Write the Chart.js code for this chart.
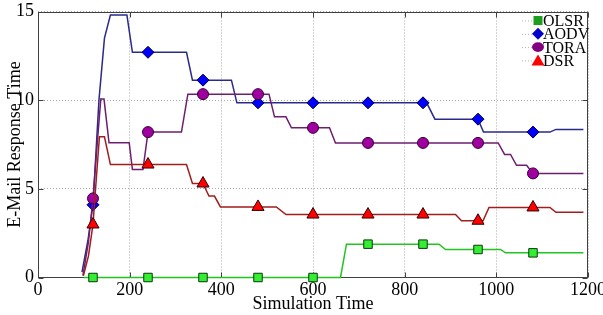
<!DOCTYPE html>
<html>
<head>
<meta charset="utf-8">
<script src="https://cdn.jsdelivr.net/npm/chart.js@4.4.0/dist/chart.umd.min.js"></script>
<style>
html, body { margin: 0; padding: 0; background: #fff; }
</style>
</head>
<body>
<canvas id="mycanvas" width="603" height="315"></canvas>
<script>
// values (x = simulation time, y = response time)
var olsrX = [100, 120, 240, 360, 480, 600, 660, 673, 720, 840, 875, 889, 960, 1009, 1020, 1080, 1190];
var olsrY = [0, 0, 0, 0, 0, 0, 0, 1.88, 1.88, 1.88, 1.88, 1.58, 1.58, 1.58, 1.39, 1.39, 1.39];

var aodvX = [96, 109, 120, 133, 145, 158, 194, 206, 240, 324, 337, 360, 422, 434, 480, 600, 720, 840, 848, 866, 960, 972, 1080, 1117, 1130, 1190];
var aodvY = [0.3, 2.1, 4.1, 10.0, 13.5, 14.8, 14.8, 12.7, 12.7, 12.7, 11.13, 11.13, 11.13, 9.85, 9.85, 9.85, 9.85, 9.85, 9.85, 8.93, 8.93, 8.2, 8.2, 8.2, 8.35, 8.35];

var toraX = [98, 110, 120, 130, 137, 144, 155, 199, 206, 229, 240, 313, 327, 360, 480, 504, 516, 541, 553, 600, 636, 649, 720, 840, 960, 1004, 1018, 1031, 1044, 1066, 1080, 1190];
var toraY = [0.1, 2.0, 4.46, 7.8, 10.06, 10.06, 7.6, 7.6, 6.09, 6.09, 8.2, 8.2, 10.34, 10.34, 10.34, 10.34, 9.06, 9.06, 8.44, 8.44, 8.44, 7.59, 7.59, 7.59, 7.59, 7.59, 6.94, 6.94, 6.33, 6.33, 5.87, 5.87];

var dsrX = [99, 110, 120, 127, 134, 145, 158, 240, 324, 337, 360, 373, 385, 398, 480, 520, 541, 600, 720, 840, 911, 924, 960, 971, 984, 1080, 1117, 1130, 1190];
var dsrY = [0.1, 1.2, 2.99, 5.5, 7.93, 7.93, 6.37, 6.37, 6.37, 5.3, 5.3, 4.59, 4.59, 3.98, 3.98, 3.98, 3.55, 3.55, 3.55, 3.55, 3.55, 3.2, 3.2, 3.2, 3.95, 3.95, 3.95, 3.68, 3.68];

// times where a marker is drawn on every curve
var markerX = [120, 240, 360, 480, 600, 720, 840, 960, 1080];

var names = ['OLSR', 'AODV', 'TORA', 'DSR'];
var xTicks = [0, 200, 400, 600, 800, 1000, 1200];
var yTicks = [0, 5, 10, 15];

var serif = 'Liberation Serif, Times New Roman, serif';

function points(xs, ys) {
	var out = [];
	for (var i in xs) {
		out.push({x: xs[i], y: ys[i]});
	}
	return out;
}

function markerSize(r) {
	return function(ctx) {
		if (!ctx.raw) return 0;
		return markerX.indexOf(ctx.raw.x) >= 0 ? r : 0;
	};
}

function plainLabel(v) {
	return String(v);
}

// plot box with inward ticks, drawn under the curves
var framePlugin = {
	id: 'frame',
	beforeDatasetsDraw: function(chart) {
		var c = chart.ctx, a = chart.chartArea;
		var xs = chart.scales.x, ys = chart.scales.y;
		var l = Math.round(a.left) + 0.5, r = Math.round(a.right) - 0.5;
		var t = Math.round(a.top) + 0.5, b = Math.round(a.bottom) - 0.5;
		c.save();
		c.strokeStyle = '#404040';
		c.lineWidth = 1;
		c.strokeRect(l, t, r - l, b - t);
		c.beginPath();
		xTicks.forEach(function(v) {
			var px = Math.round(xs.getPixelForValue(v)) + 0.5;
			c.moveTo(px, b); c.lineTo(px, b - 5);
			c.moveTo(px, t); c.lineTo(px, t + 5);
		});
		yTicks.forEach(function(v) {
			var py = Math.round(ys.getPixelForValue(v)) + 0.5;
			c.moveTo(l, py); c.lineTo(l + 5, py);
			c.moveTo(r, py); c.lineTo(r - 5, py);
		});
		c.stroke();
		c.restore();
	}
};

// legend in the upper right corner of the plot
var legendPlugin = {
	id: 'cornerLegend',
	afterDraw: function(chart) {
		var c = chart.ctx, a = chart.chartArea;
		var mx = a.right - 50;
		var cols = ['#1e9e1e', '#0000cc', '#800080', '#ff0000'];
		c.save();
		for (var i = 0; i < names.length; i++) {
			var my = a.top + 9 + i * 13.3;
			c.strokeStyle = '#b0b0b0';
			c.setLineDash([1, 2]);
			c.beginPath();
			c.moveTo(mx - 16, my + 0.5); c.lineTo(mx - 5, my + 0.5);
			c.stroke();
			c.setLineDash([]);
			c.fillStyle = cols[i];
			c.beginPath();
			if (i === 0) {
				c.rect(mx - 4.5, my - 4.5, 9, 9);
			} else if (i === 1) {
				c.moveTo(mx, my - 6); c.lineTo(mx + 6, my); c.lineTo(mx, my + 6); c.lineTo(mx - 6, my);
			} else if (i === 2) {
				c.ellipse(mx, my, 6, 4.8, 0, 0, Math.PI * 2);
			} else {
				c.moveTo(mx, my - 6); c.lineTo(mx + 6.5, my + 5); c.lineTo(mx - 6.5, my + 5);
			}
			c.closePath();
			c.fill();
			c.fillStyle = '#000';
			c.font = '16px ' + serif;
			c.textBaseline = 'alphabetic';
			c.textAlign = 'left';
			c.fillText(names[i], mx + 5, my + 5.5);
		}
		c.restore();
	}
};

var ctx = document.getElementById('mycanvas');
var myChart = new Chart(ctx, {
	type: 'line',
	data: {
		datasets: [{
			label: names[0],
			data: points(olsrX, olsrY),
			borderColor: '#22c322',
			borderWidth: 1.5,
			pointStyle: 'rect',
			pointRadius: markerSize(6),
			pointBackgroundColor: '#33ee33',
			pointBorderColor: '#0a3a0a',
			pointBorderWidth: 1,
			order: 4
		}, {
			label: names[1],
			data: points(aodvX, aodvY),
			borderColor: '#2a2a8c',
			borderWidth: 1.5,
			pointStyle: 'rectRot',
			pointRadius: markerSize(6),
			pointBackgroundColor: '#0000ff',
			pointBorderColor: '#000033',
			pointBorderWidth: 1,
			order: 3
		}, {
			label: names[2],
			data: points(toraX, toraY),
			borderColor: '#6e1e6e',
			borderWidth: 1.5,
			pointStyle: 'circle',
			pointRadius: markerSize(5.5),
			pointBackgroundColor: '#a000a0',
			pointBorderColor: '#330033',
			pointBorderWidth: 1,
			order: 2
		}, {
			label: names[3],
			data: points(dsrX, dsrY),
			borderColor: '#a01e1e',
			borderWidth: 1.5,
			pointStyle: 'triangle',
			pointRadius: markerSize(7),
			pointBackgroundColor: '#ff0000',
			pointBorderColor: '#330000',
			pointBorderWidth: 1,
			order: 1
		}]
	},
	options: {
		responsive: false,
		animation: false,
		devicePixelRatio: 1,
		layout: { padding: { top: 11.5, right: 15, left: 0, bottom: 0 } },
		elements: { line: { tension: 0 } },
		datasets: { line: { clip: false } },
		plugins: {
			legend: { display: false },
			tooltip: { enabled: false }
		},
		scales: {
			x: {
				type: 'linear',
				min: 0,
				max: 1200,
				afterBuildTicks: function(s) { s.ticks = xTicks.map(function(v) { return {value: v}; }); },
				ticks: { color: '#000', font: { family: serif, size: 18 }, padding: 2, maxRotation: 0, autoSkip: false, callback: plainLabel },
				grid: { color: '#a8a8a8', lineWidth: 1, drawTicks: false },
				border: { display: false, dash: [1, 2] },
				title: { display: true, text: 'Simulation Time', color: '#000', font: { family: serif, size: 18 }, padding: { top: 0, bottom: 0 } },
				afterFit: function(s) { s.height = 37.5; s.paddingLeft = 0; s.paddingRight = 0; }
			},
			y: {
				min: 0,
				max: 15,
				afterBuildTicks: function(s) { s.ticks = yTicks.map(function(v) { return {value: v}; }); },
				ticks: { color: '#000', font: { family: serif, size: 18 }, padding: 4, callback: plainLabel },
				grid: { color: '#a8a8a8', lineWidth: 1, drawTicks: false },
				border: { display: false, dash: [1, 2] },
				title: { display: true, text: 'E-Mail Response Time', color: '#000', font: { family: serif, size: 18 }, padding: { top: 4, bottom: 0 } },
				afterFit: function(s) { s.width = 38; s.paddingTop = 0; s.paddingBottom = 0; }
			}
		}
	},
	plugins: [framePlugin, legendPlugin]
});
</script>
</body>
</html>
